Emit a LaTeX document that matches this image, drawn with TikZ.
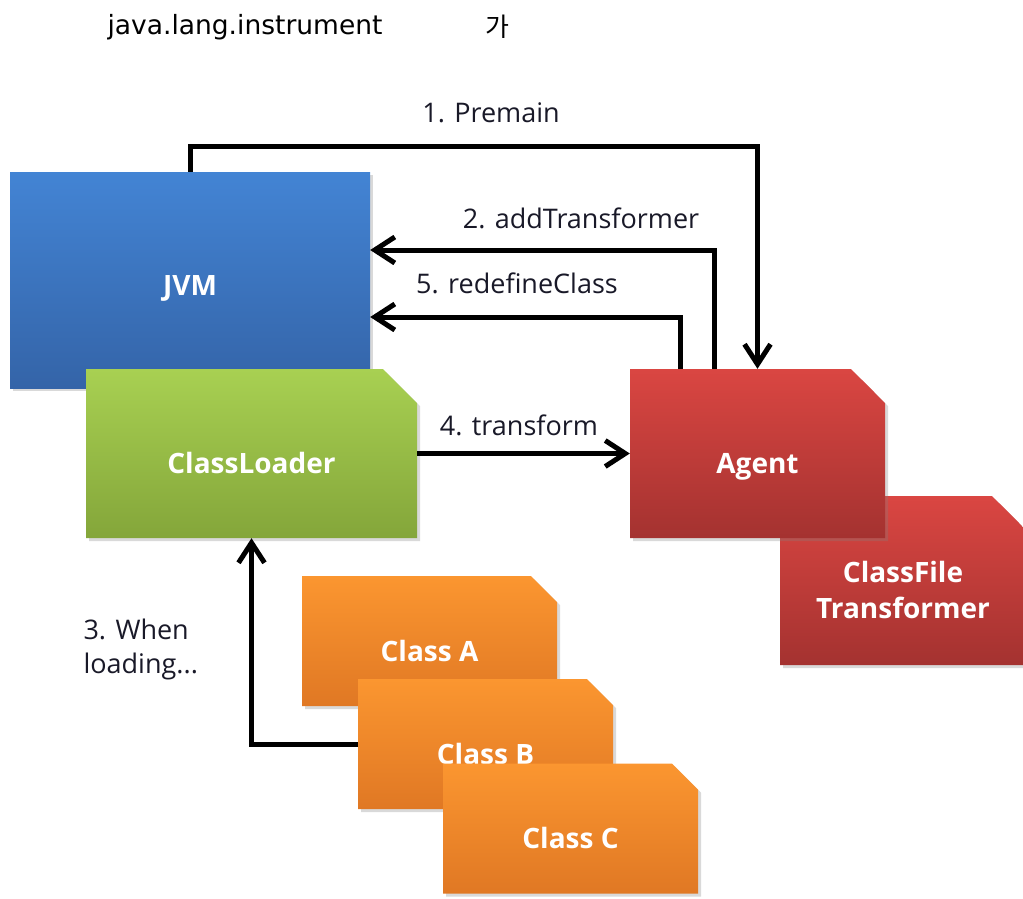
\documentclass[tikz,border=0pt]{standalone}
\usepackage{fontspec}
\setmainfont{Open Sans}
\newfontfamily\titlefont{DejaVu Sans}
\newfontfamily\korfont{Noto Sans CJK KR}
\usetikzlibrary{shapes.misc,arrows.meta,shadows}
\definecolor{jvmtop}{RGB}{67,132,212}
\definecolor{jvmbot}{RGB}{52,100,168}
\definecolor{greentop}{RGB}{168,208,82}
\definecolor{greenbot}{RGB}{132,166,58}
\definecolor{redtop}{RGB}{218,70,66}
\definecolor{redbot}{RGB}{164,50,48}
\definecolor{orangetop}{RGB}{251,150,48}
\definecolor{orangebot}{RGB}{224,120,36}
\definecolor{labeltext}{RGB}{25,25,40}

\begin{document}
\begin{tikzpicture}[
      x=1pt, y=-1pt,
      basebox/.style={rectangle, text=white, align=center,
                      font=\fontsize{28}{36}\selectfont\bfseries,
                      text height=48pt, text depth=8pt,
                      drop shadow={opacity=0.3, shadow xshift=3pt, shadow yshift=-3pt}},
      folded/.style={basebox, chamfered rectangle,
                     chamfered rectangle corners=north east,
                     chamfered rectangle sep=#1},
      jvmbox/.style={basebox, top color=jvmtop, bottom color=jvmbot,
                     minimum width=360pt, minimum height=216pt},
      loaderbox/.style={folded=17pt, top color=greentop, bottom color=greenbot,
                        minimum width=331pt, minimum height=169pt},
      agentbox/.style={folded=17pt, top color=redtop, bottom color=redbot,
                       minimum width=255pt, minimum height=169pt},
      classbox/.style={folded=13pt, top color=orangetop, bottom color=orangebot,
                       minimum width=255pt, minimum height=130pt},
      steplabel/.style={text=labeltext, font=\fontsize{27}{34}\selectfont},
      flow/.style={-{Straight Barb[length=20pt,width=26pt]}, line width=5pt},
    ]
      \useasboundingbox (0,0) rectangle (1023,898);
      % title
      \node[font=\titlefont\fontsize{26.5}{30}\selectfont] (title) at (245,27)
            {java.lang.instrument};
      \node[font=\korfont\fontsize{26}{30}\selectfont] (ga) at (497,27) {가};
      % boxes (back to front)
      \node[jvmbox, text height=38pt] (jvm) at (190,280) {JVM};
      \node[loaderbox] (loader) at (251.5,453.5) {ClassLoader};
      \node[agentbox, minimum width=246pt, text height=84pt] (cft) at (903,580.5)
            {ClassFile\\Transformer};
      \node[agentbox] (agent) at (757.5,453.5) {Agent};
      \node[classbox] (clsa) at (429.5,641) {Class A};
      \node[classbox] (clsb) at (485.5,744) {Class B};
      \node[classbox] (clsc) at (570.5,828.5) {Class C};
      % connectors
      \draw[flow] (jvm.north) -- ++(0,-25) -| (agent.north);
      \draw[flow] ([xshift=-43pt]agent.north) |- ([yshift=30pt]jvm.east);
      \draw[flow] ([xshift=-77pt]agent.north) |- ([yshift=-37pt]jvm.east);
      \draw[flow] (loader.east) -- (agent.west);
      \draw[flow] (clsb.west) -| (loader.south);
      % step labels
      \node[steplabel] (lpremain) at (491,113) {1. Premain};
      \node[steplabel] (laddtr) at (581,218) {2. addTransformer};
      \node[steplabel] (lredef) at (517,283) {5. redefineClass};
      \node[steplabel] (ltransf) at (519,425) {4. transform};
      \node[steplabel, align=left, anchor=west] (lload) at (80,649)
            {3. When\\loading...};
    \end{tikzpicture}
\end{document}
